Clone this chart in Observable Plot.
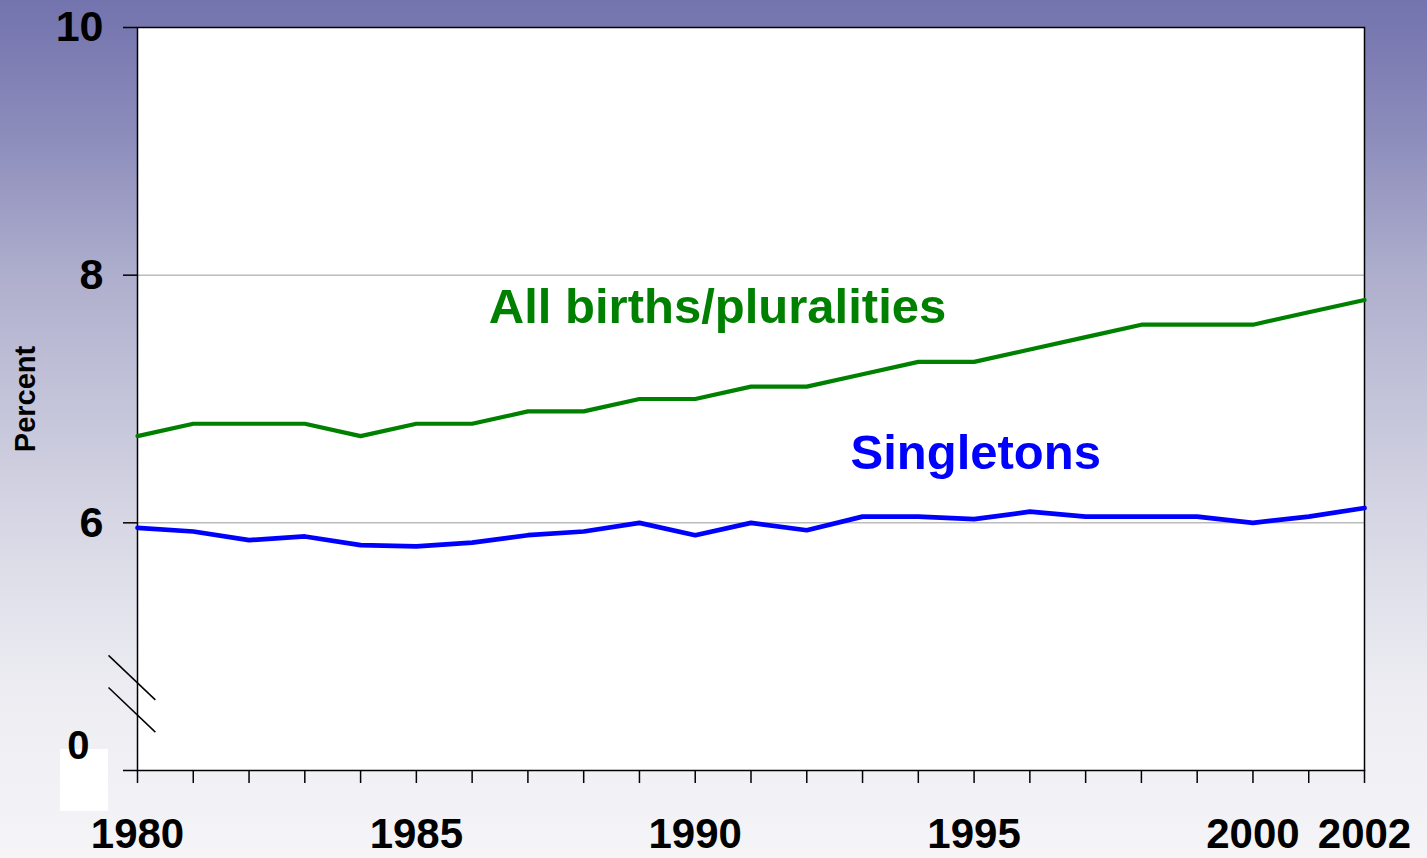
<!DOCTYPE html>
<html>
<head>
<meta charset="utf-8">
<script src="https://cdn.jsdelivr.net/npm/d3@7"></script>
<script src="https://cdn.jsdelivr.net/npm/@observablehq/plot@0.6"></script>
<style>
  html, body { margin: 0; padding: 0; }
  #chart {
    width: 1427px; height: 858px; overflow: hidden;
    background: linear-gradient(to bottom,
      rgb(115,115,174) 0%,
      rgb(137,137,186) 14%,
      rgb(176,176,206) 33%,
      rgb(200,200,220) 50%,
      rgb(220,220,232) 65%,
      rgb(236,236,242) 80%,
      rgb(245,245,248) 100%);
  }
</style>
</head>
<body>
<div id="chart"></div>
<script>
const years = [1980,1981,1982,1983,1984,1985,1986,1987,1988,1989,1990,1991,1992,1993,1994,1995,1996,1997,1998,1999,2000,2001,2002];
const allBirths = [6.7,6.8,6.8,6.8,6.7,6.8,6.8,6.9,6.9,7.0,7.0,7.1,7.1,7.2,7.3,7.3,7.4,7.5,7.6,7.6,7.6,7.7,7.8];
const singletons = [5.96,5.93,5.86,5.89,5.82,5.81,5.84,5.90,5.93,6.00,5.90,6.00,5.94,6.05,6.05,6.03,6.09,6.05,6.05,6.05,6.00,6.05,6.12];
const yTicks = [4, 6, 8, 10];
const yTickLabels = ["", "6", "8", "10"];
const xLabelYears = [1980, 1985, 1990, 1995, 2000, 2002];
const gridValues = [6, 8];
const seriesLabels = [
  {x: 1990.4, y: 7.74, text: "All births/pluralities", color: "#008000"},
  {x: 1995.03, y: 6.56, text: "Singletons", color: "#0000ff"}
];
const zeroLabel = [{x: 1978.94, y: 4.2, text: "0"}];
const zeroMask = [{x1: 1978.62, x2: 1979.48, y1: 3.67, y2: 4.17}];
const breakMarks = [
  {x1: 1979.48, y1: 4.93, x2: 1980.32, y2: 4.57},
  {x1: 1979.48, y1: 4.67, x2: 1980.32, y2: 4.31}
];

const allData = years.map((year, i) => ({year, value: allBirths[i]}));
const singleData = years.map((year, i) => ({year, value: singletons[i]}));

const font = "'Liberation Sans', Arial, Helvetica, sans-serif";

const chart = Plot.plot({
  width: 1427,
  height: 858,
  marginLeft: 137,
  marginRight: 63,
  marginTop: 27,
  marginBottom: 88,
  style: {background: "transparent", overflow: "visible", fontFamily: font, color: "black"},
  x: {domain: [1980, 2002], axis: null},
  y: {domain: [4, 10], axis: null},
  marks: [
    Plot.frame({fill: "white", stroke: "none"}),
    Plot.ruleY(gridValues, {stroke: "#9a9a9a", strokeWidth: 1}),
    Plot.frame({stroke: "black", strokeWidth: 1.5, fill: "none"}),
    Plot.axisY({
      ticks: yTicks,
      tickSize: 14,
      tickPadding: 20,
      tickFormat: (d) => yTickLabels[yTicks.indexOf(d)],
      fontSize: 43,
      fontWeight: "bold",
      strokeWidth: 1.5,
      label: null
    }),
    Plot.axisX({
      ticks: years,
      tickSize: 13,
      tickPadding: 35,
      tickFormat: (d) => xLabelYears.includes(d) ? String(d) : "",
      fontSize: 42,
      fontWeight: "bold",
      strokeWidth: 1.5,
      label: null
    }),
    Plot.rect(zeroMask, {x1: "x1", x2: "x2", y1: "y1", y2: "y2", fill: "white"}),
    Plot.text(zeroLabel, {x: "x", y: "y", text: "text", fontSize: 40, fontWeight: "bold", fill: "black"}),
    Plot.link(breakMarks, {x1: "x1", y1: "y1", x2: "x2", y2: "y2", stroke: "black", strokeWidth: 1.5}),
    Plot.line(allData, {x: "year", y: "value", stroke: "#008000", strokeWidth: 4.2}),
    Plot.line(singleData, {x: "year", y: "value", stroke: "#0000ff", strokeWidth: 4.7}),
    Plot.text(seriesLabels, {x: "x", y: "y", text: "text", fill: "color", fontSize: 49, fontWeight: "bold"}),
    Plot.text(["Percent"], {frameAnchor: "left", dx: -112, textAnchor: "middle", rotate: -90, fontSize: 29, fontWeight: "bold", fill: "black"})
  ]
});
document.getElementById("chart").appendChild(chart);
</script>
</body>
</html>
